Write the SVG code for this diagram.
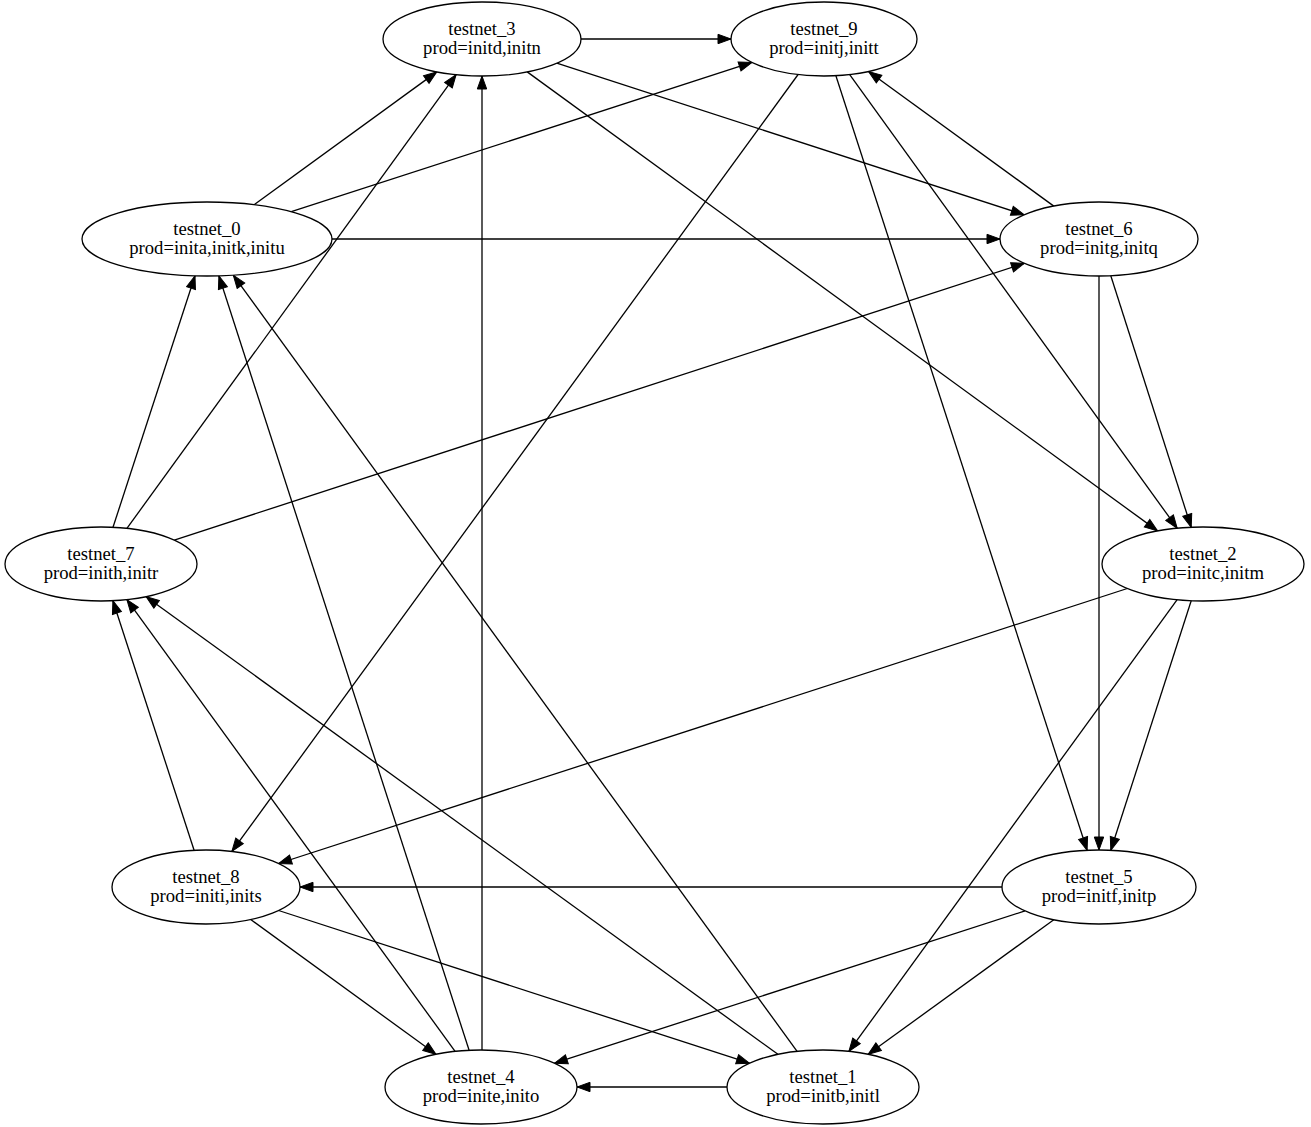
<svg xmlns="http://www.w3.org/2000/svg" width="1311" height="1127" viewBox="0 0 1311 1127">
<defs>
<marker id="ah" markerUnits="userSpaceOnUse" markerWidth="16" markerHeight="12" refX="13" refY="4.7" orient="auto" viewBox="-1 -1 16 12">
<path d="M0,0 L13,4.7 L0,9.4 z" fill="#000" stroke="#000" stroke-width="1"/>
</marker>
</defs>
<style>
.n ellipse{fill:#fff;stroke:#000;stroke-width:1.3}
.n text{font-family:"Liberation Serif","Times New Roman",serif;font-size:18.67px;text-anchor:middle;fill:#000}
#edges line{stroke:#000;stroke-width:1.3;marker-end:url(#ah)}
</style>
<rect width="1311" height="1127" fill="#fff"/>
<g id="edges">
<line x1="581" y1="39" x2="731" y2="39"/>
<line x1="254.1" y1="204.7" x2="436.8" y2="71.9"/>
<line x1="291.3" y1="211.7" x2="751.9" y2="62.4"/>
<line x1="332" y1="239" x2="1000" y2="239"/>
<line x1="113" y1="527.3" x2="195" y2="275.8"/>
<line x1="126.9" y1="528.4" x2="456.1" y2="74.7"/>
<line x1="174.3" y1="540.1" x2="1024.4" y2="263.3"/>
<line x1="482" y1="1050" x2="482" y2="76"/>
<line x1="469.1" y1="1050.3" x2="218.9" y2="275.8"/>
<line x1="455.1" y1="1051.4" x2="126.9" y2="599.6"/>
<line x1="797.1" y1="1051.4" x2="233.3" y2="275.2"/>
<line x1="777.9" y1="1054.3" x2="146.1" y2="596.7"/>
<line x1="727" y1="1087" x2="577" y2="1087"/>
<line x1="194.1" y1="850.3" x2="112.9" y2="600.7"/>
<line x1="250.7" y1="919.5" x2="436" y2="1054.3"/>
<line x1="278.6" y1="910.5" x2="749.5" y2="1063.2"/>
<line x1="556.8" y1="63.2" x2="1024.2" y2="214.8"/>
<line x1="527.2" y1="71.9" x2="1157.6" y2="530.9"/>
<line x1="798.1" y1="74.5" x2="231.9" y2="851.4"/>
<line x1="835.9" y1="75.7" x2="1087.1" y2="850.3"/>
<line x1="849.7" y1="74.6" x2="1177.2" y2="528.2"/>
<line x1="1053.8" y1="206.1" x2="868.6" y2="71.5"/>
<line x1="1099" y1="276" x2="1099" y2="850"/>
<line x1="1110.8" y1="275.7" x2="1191.2" y2="527.3"/>
<line x1="1127.3" y1="588.5" x2="278.6" y2="863.5"/>
<line x1="1191.2" y1="600.7" x2="1110.8" y2="850.3"/>
<line x1="1177" y1="599.8" x2="848.9" y2="1051.4"/>
<line x1="1002" y1="887" x2="300" y2="887"/>
<line x1="1025" y1="910.9" x2="554.5" y2="1063.2"/>
<line x1="1053.8" y1="919.7" x2="868.1" y2="1054.3"/>
</g>
<g id="testnet_3" class="n"><ellipse cx="482" cy="39" rx="99" ry="37"/><text x="482" y="35">testnet_3</text><text x="482" y="54">prod=initd,initn</text></g>
<g id="testnet_9" class="n"><ellipse cx="824" cy="39" rx="93" ry="37"/><text x="824" y="35">testnet_9</text><text x="824" y="54">prod=initj,initt</text></g>
<g id="testnet_0" class="n"><ellipse cx="207" cy="239" rx="125" ry="37"/><text x="207" y="235">testnet_0</text><text x="207" y="254">prod=inita,initk,initu</text></g>
<g id="testnet_6" class="n"><ellipse cx="1099" cy="239" rx="99" ry="37"/><text x="1099" y="235">testnet_6</text><text x="1099" y="254">prod=initg,initq</text></g>
<g id="testnet_7" class="n"><ellipse cx="101" cy="564" rx="96" ry="37"/><text x="101" y="560">testnet_7</text><text x="101" y="579">prod=inith,initr</text></g>
<g id="testnet_2" class="n"><ellipse cx="1203" cy="564" rx="101" ry="37"/><text x="1203" y="560">testnet_2</text><text x="1203" y="579">prod=initc,initm</text></g>
<g id="testnet_8" class="n"><ellipse cx="206" cy="887" rx="94" ry="37"/><text x="206" y="883">testnet_8</text><text x="206" y="902">prod=initi,inits</text></g>
<g id="testnet_5" class="n"><ellipse cx="1099" cy="887" rx="97" ry="37"/><text x="1099" y="883">testnet_5</text><text x="1099" y="902">prod=initf,initp</text></g>
<g id="testnet_4" class="n"><ellipse cx="481" cy="1087" rx="96" ry="37"/><text x="481" y="1083">testnet_4</text><text x="481" y="1102">prod=inite,inito</text></g>
<g id="testnet_1" class="n"><ellipse cx="823" cy="1087" rx="96" ry="37"/><text x="823" y="1083">testnet_1</text><text x="823" y="1102">prod=initb,initl</text></g>
</svg>
